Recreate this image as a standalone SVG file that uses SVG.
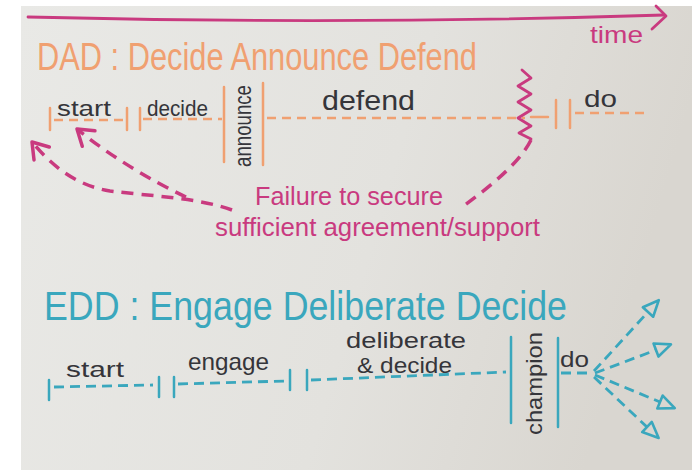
<svg xmlns="http://www.w3.org/2000/svg" width="692" height="471" viewBox="0 0 692 471">
  <defs>
    <linearGradient id="paper" x1="0" y1="0" x2="1" y2="0.2">
      <stop offset="0" stop-color="#e9e9e6"/>
      <stop offset="0.6" stop-color="#e3e2de"/>
      <stop offset="1" stop-color="#d9d6d0"/>
    </linearGradient>
    <marker id="chev" markerUnits="userSpaceOnUse" markerWidth="30" markerHeight="30" viewBox="-20 -15 30 30" refX="0" refY="0" orient="auto">
      <path d="M-15,-10 L0,0 L-15,10" fill="none" stroke="#c93a7f" stroke-width="3.5" stroke-linecap="round" stroke-linejoin="round"/>
    </marker>
    <marker id="tri" markerUnits="userSpaceOnUse" markerWidth="30" markerHeight="30" viewBox="-5 -15 30 30" refX="0" refY="0" orient="auto">
      <path d="M0,-7 L16,0 L0,7 Z" fill="none" stroke="#3aa7bd" stroke-width="2.6" stroke-linejoin="round"/>
    </marker>
  </defs>
  <style>
    .hand { font-family: "Liberation Sans", "Open Sans", sans-serif; font-weight: 400; }
    .blk { fill: #35353a; }
    .org { fill: #f0a071; }
    .mag { fill: #c93a7f; }
    .teal { fill: #3aa7bd; }
    .oline { stroke: #f0a071; stroke-width: 2.5; fill: none; stroke-linecap: round; }
    .odash { stroke: #f0a071; stroke-width: 2.5; fill: none; stroke-dasharray: 9 6; }
    .tline { stroke: #3aa7bd; stroke-width: 2.5; fill: none; stroke-linecap: round; }
    .tdash { stroke: #3aa7bd; stroke-width: 2.8; fill: none; stroke-dasharray: 10 6; }
    .mdash { stroke: #c93a7f; stroke-width: 3.5; fill: none; stroke-dasharray: 12 8; }
    .mline { stroke: #c93a7f; stroke-width: 2.8; fill: none; stroke-linecap: round; stroke-linejoin: round; }
  </style>

  <rect x="0" y="0" width="692" height="471" fill="#ffffff"/>
  <rect x="21" y="6" width="671" height="464" fill="url(#paper)"/>

  <!-- time axis -->
  <g id="time-axis">
    <path class="mline" d="M28,17 Q350,25 664,15"/>
    <path class="mline" d="M656,6 L666,16 L652,29"/>
    <text class="hand mag" x="590" y="43" font-size="24" textLength="53" lengthAdjust="spacingAndGlyphs">time</text>
  </g>

  <!-- DAD section -->
  <g id="dad-title">
    <text class="hand org" x="37" y="70" font-size="38" textLength="440" lengthAdjust="spacingAndGlyphs">DAD : Decide Announce Defend</text>
  </g>

  <g id="dad-start">
    <line class="oline" x1="50" y1="108" x2="50" y2="130"/>
    <line class="odash" x1="54" y1="120" x2="124" y2="120"/>
    <line class="oline" x1="127" y1="108" x2="127" y2="130"/>
    <text class="hand blk" x="57" y="116" font-size="22" textLength="54" lengthAdjust="spacingAndGlyphs">start</text>
  </g>

  <g id="dad-decide">
    <line class="oline" x1="140" y1="108" x2="140" y2="130"/>
    <line class="odash" x1="143" y1="119" x2="222" y2="119"/>
    <text class="hand blk" x="147" y="116" font-size="22" textLength="61" lengthAdjust="spacingAndGlyphs">decide</text>
  </g>

  <g id="dad-announce">
    <line class="oline" x1="224" y1="87" x2="224" y2="162"/>
    <line class="oline" x1="263" y1="83" x2="263" y2="165"/>
    <text class="hand blk" transform="translate(251,167) rotate(-90)" x="0" y="0" font-size="24" textLength="82" lengthAdjust="spacingAndGlyphs">announce</text>
  </g>

  <g id="dad-defend">
    <line class="odash" x1="267" y1="118" x2="525" y2="118"/>
    <text class="hand blk" x="322" y="110" font-size="28" textLength="93" lengthAdjust="spacingAndGlyphs">defend</text>
    <polyline class="mline" points="522,70 531,78 518,86 531,94 518,102 531,110 518,118 531,126 519,133 531,139"/>
  </g>

  <g id="dad-do">
    <line class="oline" x1="531" y1="117" x2="548" y2="117"/>
    <line class="oline" x1="556" y1="100" x2="556" y2="128"/>
    <line class="oline" x1="570" y1="100" x2="570" y2="128"/>
    <line class="odash" x1="575" y1="113" x2="645" y2="113"/>
    <text class="hand blk" x="584" y="107" font-size="24" textLength="33" lengthAdjust="spacingAndGlyphs">do</text>
  </g>

  <g id="failure-label">
    <text class="hand mag" x="255" y="205" font-size="25" textLength="188" lengthAdjust="spacingAndGlyphs">Failure to secure</text>
    <text class="hand mag" x="215" y="236" font-size="25" textLength="325" lengthAdjust="spacingAndGlyphs">sufficient agreement/support</text>
  </g>

  <!-- EDD section -->
  <g id="edd-title">
    <text class="hand teal" x="44" y="320" font-size="41" textLength="523" lengthAdjust="spacingAndGlyphs">EDD : Engage Deliberate Decide</text>
  </g>

  <g id="edd-start">
    <line class="tline" x1="49" y1="380" x2="49" y2="400"/>
    <line class="tdash" x1="54" y1="387" x2="153" y2="385"/>
    <line class="tline" x1="159" y1="377" x2="159" y2="397"/>
    <text class="hand blk" x="66" y="377" font-size="22" textLength="58" lengthAdjust="spacingAndGlyphs">start</text>
  </g>

  <g id="edd-engage">
    <line class="tline" x1="174" y1="377" x2="174" y2="397"/>
    <line class="tdash" x1="178" y1="384" x2="285" y2="381"/>
    <line class="tline" x1="290" y1="370" x2="290" y2="390"/>
    <text class="hand blk" x="188" y="370" font-size="24" textLength="81" lengthAdjust="spacingAndGlyphs">engage</text>
  </g>

  <g id="edd-deliberate">
    <line class="tline" x1="307" y1="370" x2="307" y2="390"/>
    <line class="tdash" x1="311" y1="380" x2="506" y2="372"/>
    <text class="hand blk" x="346" y="348" font-size="22" textLength="120" lengthAdjust="spacingAndGlyphs">deliberate</text>
    <text class="hand blk" x="357" y="373" font-size="22" textLength="95" lengthAdjust="spacingAndGlyphs">&amp; decide</text>
  </g>

  <g id="edd-champion">
    <line class="tline" x1="511" y1="337" x2="511" y2="423"/>
    <line class="tline" x1="558" y1="338" x2="558" y2="427"/>
    <text class="hand blk" transform="translate(542,435) rotate(-90)" x="0" y="0" font-size="22" textLength="103" lengthAdjust="spacingAndGlyphs">champion</text>
  </g>

  <g id="edd-do">
    <line class="tdash" x1="561" y1="373" x2="592" y2="373"/>
    <text class="hand blk" x="560" y="367" font-size="22" textLength="29" lengthAdjust="spacingAndGlyphs">do</text>
  </g>

  <!-- connectors -->
  <g id="connectors">
    <path class="mdash" d="M232,210 C200,198 150,196 110,191 C72,185 48,161 32,142" marker-end="url(#chev)"/>
    <path class="mdash" d="M186,197 C150,180 110,156 77,129" marker-end="url(#chev)"/>
    <path class="mdash" d="M531,140 C520,162 492,185 465,205"/>
    <path class="tdash" d="M594,371 L648,312" marker-end="url(#tri)"/>
    <path class="tdash" d="M595,373 L656,350" marker-end="url(#tri)"/>
    <path class="tdash" d="M595,375 L660,402" marker-end="url(#tri)"/>
    <path class="tdash" d="M594,377 L647,427" marker-end="url(#tri)"/>
  </g>
</svg>
